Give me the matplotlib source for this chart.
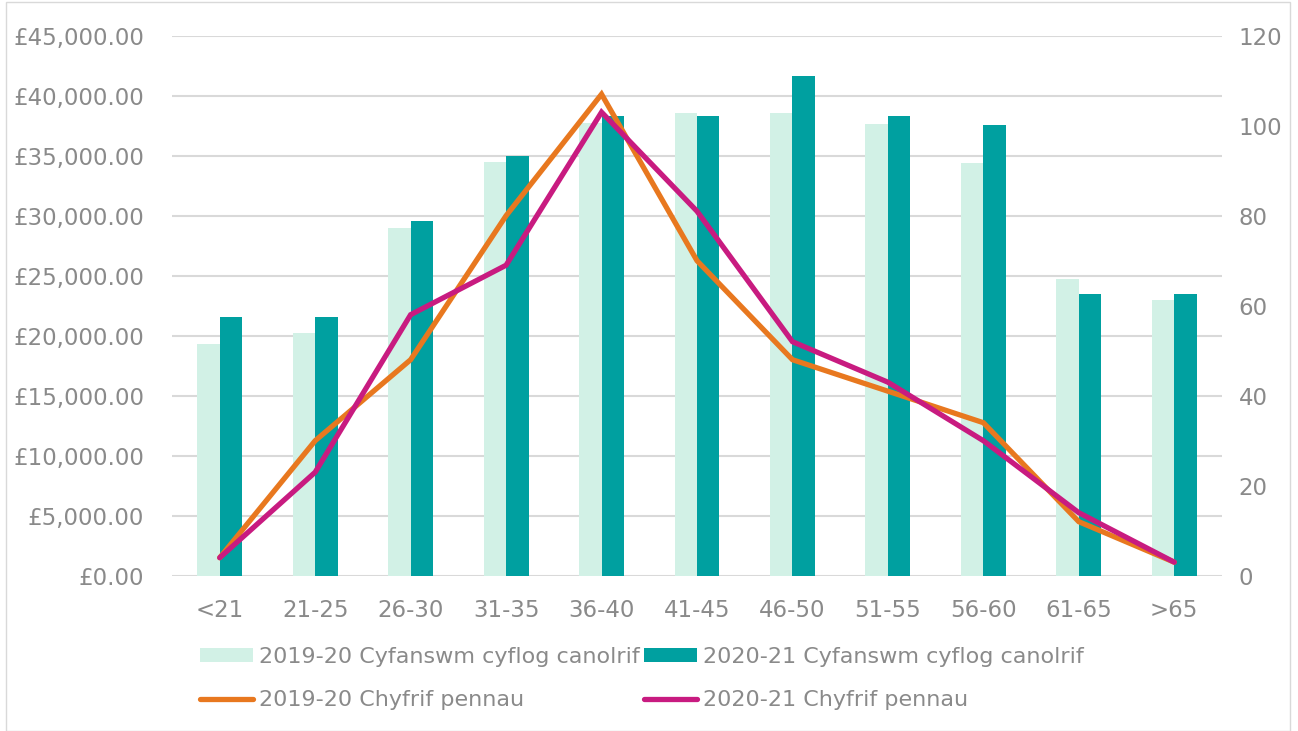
import numpy as np
import matplotlib
matplotlib.use("Agg")
import matplotlib.pyplot as plt
from matplotlib.patches import Rectangle

# Age bands
categories = ["<21", "21-25", "26-30", "31-35", "36-40", "41-45",
              "46-50", "51-55", "56-60", "61-65", ">65"]

# Median total pay (left axis)
pay_2019 = [19300, 20200, 29000, 34450, 37700, 38580,
            38580, 37640, 34370, 24720, 23000]
pay_2020 = [21530, 21530, 29530, 34950, 38300, 38310,
            41670, 38310, 37530, 23450, 23450]

# Headcount (right axis)
heads_2019 = [4, 30, 48, 80, 107, 70, 48, 41, 34, 12, 3]
heads_2020 = [4, 23, 58, 69, 103, 81, 52, 43, 30, 14, 3]

labels = ["2019-20 Cyfanswm cyflog canolrif", "2020-21 Cyfanswm cyflog canolrif",
          "2019-20 Chyfrif pennau", "2020-21 Chyfrif pennau"]

c_light = "#D2F1E6"
c_dark = "#00A0A0"
c_orange = "#E8781F"
c_magenta = "#C81B80"
txt = "#8A8A8A"
grid_c = "#D9D9D9"

plt.rcParams["font.family"] = ["DejaVu Sans"]

fig = plt.figure(figsize=(12.98, 7.31), dpi=100)
ax = fig.add_axes([172 / 1298, 1 - 575.7 / 731, 1050 / 1298, 540 / 731])
ax2 = ax.twinx()

x = np.arange(len(categories))
w = 0.235
b1 = ax.bar(x - w / 2, pay_2019, w, color=c_light, zorder=2)
b2 = ax.bar(x + w / 2, pay_2020, w, color=c_dark, zorder=2)

l1, = ax2.plot(x, heads_2019, color=c_orange, lw=3.8, solid_capstyle="round",
               solid_joinstyle="miter", zorder=3)
l2, = ax2.plot(x, heads_2020, color=c_magenta, lw=3.8, solid_capstyle="round",
               solid_joinstyle="miter", zorder=4)

ax.set_xlim(-0.5, len(categories) - 0.5)
ax.set_ylim(0, 45000)
ax.set_yticks(np.arange(0, 45001, 5000))
ax.set_yticklabels([f"£{v:,.2f}" for v in np.arange(0, 45001, 5000)])
ax2.set_ylim(0, 120)
ax2.set_yticks(np.arange(0, 121, 20))

ax.set_xticks(x)
ax.set_xticklabels(categories)

ax.yaxis.grid(True, color=grid_c, lw=1.5, zorder=0)
ax.set_axisbelow(True)
for a in (ax, ax2):
    for s in ["top", "left", "right", "bottom"]:
        a.spines[s].set_visible(False)
    a.tick_params(length=0, labelsize=16.5, labelcolor=txt)
ax.tick_params(axis="y", pad=20)
ax.tick_params(axis="x", pad=17)
ax2.tick_params(axis="y", pad=12)

ax.legend([b1, l1, b2, l2],
          [labels[0], labels[2], labels[1], labels[3]],
          ncol=2, frameon=False, loc="upper left",
          bbox_to_anchor=(8 / 1050, -0.095), fontsize=16,
          labelcolor=txt, handlelength=2.4, handleheight=0.6,
          handletextpad=0.25, columnspacing=0.2, labelspacing=1.05)

fig.patches.append(Rectangle((6 / 1298, 0.5 / 731), 1284 / 1298, 729 / 731,
                             transform=fig.transFigure, fill=False,
                             edgecolor=grid_c, lw=1))

fig.savefig("out.png", dpi=100)
